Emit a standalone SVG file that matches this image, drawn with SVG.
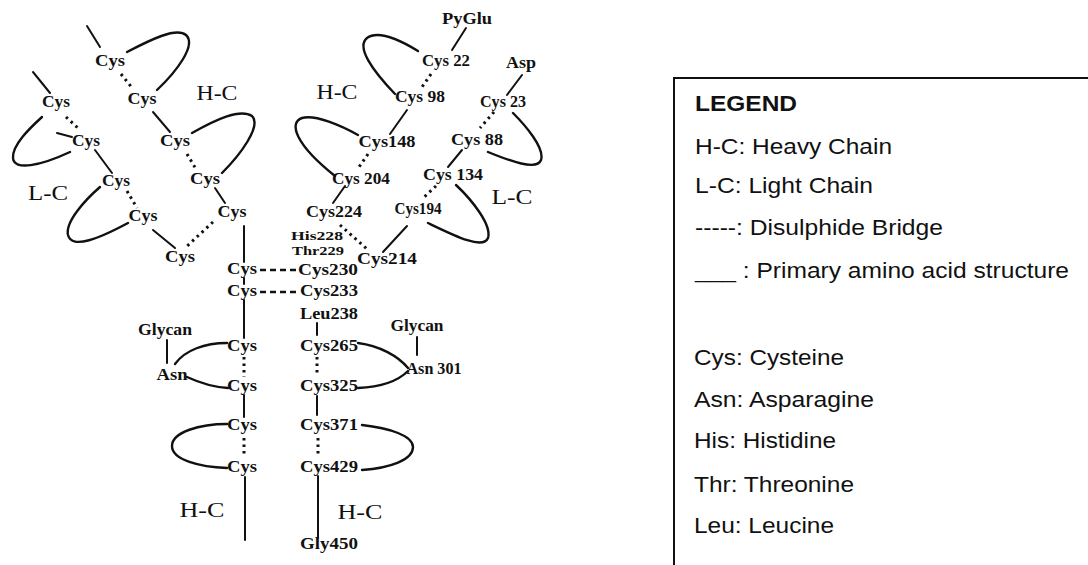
<svg xmlns="http://www.w3.org/2000/svg" width="1088" height="565" viewBox="0 0 1088 565">
  <style>
    .res { font-family: "Liberation Serif", "Times New Roman", serif; font-size: 17px; font-weight: bold; fill: #111; text-anchor: middle; }
    .small { font-size: 13px; }
    .chain { font-family: "Liberation Serif", "Times New Roman", serif; font-size: 21.5px; fill: #111; text-anchor: middle; }
    .leg { font-family: "Liberation Sans", Arial, sans-serif; font-size: 22.5px; fill: #111; }
    .legh { font-weight: bold; }
    .solid { fill: none; stroke: #111; stroke-width: 2; stroke-linecap: round; }
    .loop { fill: none; stroke: #111; stroke-width: 2.4; stroke-linecap: round; }
    .dot { fill: none; stroke: #111; stroke-width: 3; stroke-dasharray: 2.5 4; }
    .dash { fill: none; stroke: #111; stroke-width: 2.6; stroke-dasharray: 6 4; }
  </style>
  <rect width="1088" height="565" fill="#fff"/>

  <!-- peptide backbone, loops and disulphide bridges -->
  <g id="connectors">
    <!-- left heavy chain -->
    <line class="solid" x1="87" y1="26" x2="100" y2="47"/>
    <path class="loop" d="M127,52 C150,40 176,27 186,35 C197,45 176,72 157,90"/>
    <line class="dot" x1="121" y1="74" x2="133" y2="89"/>
    <line class="solid" x1="153" y1="112" x2="170" y2="132"/>
    <path class="loop" d="M192,133 C215,120 240,108 252,116 C262,126 240,155 222,173"/>
    <line class="dot" x1="187" y1="154" x2="196" y2="169"/>
    <line class="solid" x1="215" y1="188" x2="225" y2="203"/>
    <line class="dot" x1="213" y1="222" x2="185" y2="248"/>
    <line class="solid" x1="244" y1="226" x2="244" y2="262"/>
    <line class="solid" x1="244" y1="278" x2="244" y2="284"/>
    <line class="solid" x1="244" y1="300" x2="244" y2="338"/>
    <line class="dot" x1="244" y1="357" x2="244" y2="377"/>
    <line class="solid" x1="244" y1="395" x2="244" y2="417"/>
    <path class="loop" d="M227,424 C200,424 172,432 172,446 C172,460 200,467 227,468"/>
    <line class="dot" x1="244" y1="438" x2="244" y2="456"/>
    <line class="solid" x1="245" y1="477" x2="245" y2="540"/>
    <!-- left glycan -->
    <line class="solid" x1="167" y1="340" x2="167" y2="363"/>
    <path class="loop" d="M175,364 C185,350 205,343 227,343"/>
    <path class="loop" d="M187,377 C200,383 212,387 228,388"/>

    <!-- left light chain -->
    <line class="solid" x1="33" y1="72" x2="50" y2="93"/>
    <path class="loop" d="M42,117 C30,128 12,145 13,158 C14,171 40,166 70,152"/>
    <line class="solid" x1="57" y1="133" x2="72" y2="137"/>
    <line class="dot" x1="66" y1="117" x2="79" y2="129"/>
    <line class="solid" x1="95" y1="150" x2="112" y2="173"/>
    <path class="loop" d="M100,187 C85,200 65,222 68,235 C72,250 100,238 128,223"/>
    <line class="dot" x1="127" y1="191" x2="137" y2="208"/>
    <line class="solid" x1="153" y1="230" x2="175" y2="248"/>

    <!-- hinge bridges -->
    <line class="dash" x1="260" y1="270" x2="298" y2="270"/>
    <line class="dash" x1="260" y1="292" x2="298" y2="292"/>

    <!-- right heavy chain -->
    <line class="solid" x1="466" y1="28" x2="452" y2="50"/>
    <path class="loop" d="M418,51 C400,40 378,30 367,38 C356,47 372,70 395,94"/>
    <line class="dot" x1="431" y1="74" x2="420" y2="90"/>
    <line class="solid" x1="407" y1="110" x2="390" y2="134"/>
    <path class="loop" d="M358,135 C342,126 315,114 302,118 C288,123 296,145 335,176"/>
    <line class="dot" x1="368" y1="154" x2="357" y2="170"/>
    <line class="solid" x1="345" y1="186" x2="333" y2="203"/>
    <line class="dot" x1="340" y1="225" x2="367" y2="249"/>
    <line class="solid" x1="317" y1="323" x2="317" y2="335"/>
    <line class="dot" x1="317" y1="357" x2="317" y2="376"/>
    <line class="solid" x1="317" y1="396" x2="317" y2="415"/>
    <path class="loop" d="M362,425 C390,428 413,436 413,447 C413,460 390,468 362,470"/>
    <line class="dot" x1="318" y1="438" x2="318" y2="456"/>
    <line class="solid" x1="318" y1="476" x2="318" y2="538"/>
    <!-- right glycan -->
    <line class="solid" x1="417" y1="337" x2="417" y2="355"/>
    <path class="loop" d="M358,343 C380,346 398,356 408,368"/>
    <path class="loop" d="M358,388 C380,387 398,381 408,371"/>

    <!-- right light chain -->
    <line class="solid" x1="522" y1="75" x2="507" y2="95"/>
    <path class="loop" d="M513,113 C525,125 545,148 541,160 C537,171 510,161 488,152"/>
    <line class="dot" x1="494" y1="112" x2="480" y2="128"/>
    <line class="solid" x1="462" y1="150" x2="448" y2="167"/>
    <path class="loop" d="M456,185 C472,200 492,225 488,238 C483,250 455,236 428,223"/>
    <line class="dot" x1="436" y1="186" x2="422" y2="199"/>
    <line class="solid" x1="383" y1="252" x2="407" y2="226"/>
  </g>

  <!-- residues: left heavy chain -->
  <g id="lh-cys1"><text class="res" x="110" y="66" textLength="30" lengthAdjust="spacingAndGlyphs">Cys</text></g>
  <g id="lh-cys2"><text class="res" x="142" y="104" textLength="29" lengthAdjust="spacingAndGlyphs">Cys</text></g>
  <g id="lh-cys3"><text class="res" x="175" y="146" textLength="30" lengthAdjust="spacingAndGlyphs">Cys</text></g>
  <g id="lh-cys4"><text class="res" x="205" y="184" textLength="30" lengthAdjust="spacingAndGlyphs">Cys</text></g>
  <g id="lh-cys5"><text class="res" x="232" y="217" textLength="29" lengthAdjust="spacingAndGlyphs">Cys</text></g>
  <g id="lh-cys6"><text class="res" x="242" y="274" textLength="30" lengthAdjust="spacingAndGlyphs">Cys</text></g>
  <g id="lh-cys7"><text class="res" x="242" y="296" textLength="30" lengthAdjust="spacingAndGlyphs">Cys</text></g>
  <g id="lh-cys8"><text class="res" x="242" y="351" textLength="30" lengthAdjust="spacingAndGlyphs">Cys</text></g>
  <g id="lh-cys9"><text class="res" x="242" y="391" textLength="30" lengthAdjust="spacingAndGlyphs">Cys</text></g>
  <g id="lh-cys10"><text class="res" x="242" y="430" textLength="30" lengthAdjust="spacingAndGlyphs">Cys</text></g>
  <g id="lh-cys11"><text class="res" x="242" y="472" textLength="30" lengthAdjust="spacingAndGlyphs">Cys</text></g>
  <g id="lh-glycan"><text class="res" x="165" y="335" textLength="54" lengthAdjust="spacingAndGlyphs">Glycan</text></g>
  <g id="lh-asn"><text class="res" x="172" y="380" textLength="31" lengthAdjust="spacingAndGlyphs">Asn</text></g>

  <!-- residues: left light chain -->
  <g id="ll-cys1"><text class="res" x="56" y="107" textLength="28" lengthAdjust="spacingAndGlyphs">Cys</text></g>
  <g id="ll-cys2"><text class="res" x="86" y="146" textLength="28" lengthAdjust="spacingAndGlyphs">Cys</text></g>
  <g id="ll-cys3"><text class="res" x="116" y="186" textLength="28" lengthAdjust="spacingAndGlyphs">Cys</text></g>
  <g id="ll-cys4"><text class="res" x="143" y="221" textLength="29" lengthAdjust="spacingAndGlyphs">Cys</text></g>
  <g id="ll-cys5"><text class="res" x="180" y="262" textLength="30" lengthAdjust="spacingAndGlyphs">Cys</text></g>

  <!-- residues: right heavy chain -->
  <g id="rh-pyglu"><text class="res" x="467" y="24" textLength="50" lengthAdjust="spacingAndGlyphs">PyGlu</text></g>
  <g id="rh-cys22"><text class="res" x="446" y="66" textLength="48" lengthAdjust="spacingAndGlyphs">Cys 22</text></g>
  <g id="rh-cys98"><text class="res" x="420" y="102" textLength="50" lengthAdjust="spacingAndGlyphs">Cys 98</text></g>
  <g id="rh-cys148"><text class="res" x="387" y="147" textLength="57" lengthAdjust="spacingAndGlyphs">Cys148</text></g>
  <g id="rh-cys204"><text class="res" x="361" y="184" textLength="58" lengthAdjust="spacingAndGlyphs">Cys 204</text></g>
  <g id="rh-cys224"><text class="res" x="334" y="217" textLength="56" lengthAdjust="spacingAndGlyphs">Cys224</text></g>
  <g id="rh-his228"><text class="res small" x="317" y="240" textLength="52" lengthAdjust="spacingAndGlyphs">His228</text></g>
  <g id="rh-thr229"><text class="res small" x="318" y="255" textLength="52" lengthAdjust="spacingAndGlyphs">Thr229</text></g>
  <g id="rh-cys230"><text class="res" x="328" y="275" textLength="60" lengthAdjust="spacingAndGlyphs">Cys230</text></g>
  <g id="rh-cys233"><text class="res" x="329" y="296" textLength="58" lengthAdjust="spacingAndGlyphs">Cys233</text></g>
  <g id="rh-leu238"><text class="res" x="329" y="319" textLength="58" lengthAdjust="spacingAndGlyphs">Leu238</text></g>
  <g id="rh-cys265"><text class="res" x="329" y="351" textLength="58" lengthAdjust="spacingAndGlyphs">Cys265</text></g>
  <g id="rh-cys325"><text class="res" x="329" y="391" textLength="58" lengthAdjust="spacingAndGlyphs">Cys325</text></g>
  <g id="rh-cys371"><text class="res" x="329" y="430" textLength="58" lengthAdjust="spacingAndGlyphs">Cys371</text></g>
  <g id="rh-cys429"><text class="res" x="329" y="472" textLength="58" lengthAdjust="spacingAndGlyphs">Cys429</text></g>
  <g id="rh-gly450"><text class="res" x="329" y="549" textLength="58" lengthAdjust="spacingAndGlyphs">Gly450</text></g>
  <g id="rh-glycan"><text class="res" x="417" y="331" textLength="53" lengthAdjust="spacingAndGlyphs">Glycan</text></g>
  <g id="rh-asn301"><text class="res" x="434" y="374" textLength="55" lengthAdjust="spacingAndGlyphs">Asn 301</text></g>

  <!-- residues: right light chain -->
  <g id="rl-asp"><text class="res" x="521" y="68" textLength="30" lengthAdjust="spacingAndGlyphs">Asp</text></g>
  <g id="rl-cys23"><text class="res" x="503" y="107" textLength="46" lengthAdjust="spacingAndGlyphs">Cys 23</text></g>
  <g id="rl-cys88"><text class="res" x="477" y="145" textLength="52" lengthAdjust="spacingAndGlyphs">Cys 88</text></g>
  <g id="rl-cys134"><text class="res" x="453" y="180" textLength="60" lengthAdjust="spacingAndGlyphs">Cys 134</text></g>
  <g id="rl-cys194"><text class="res" x="418" y="214" textLength="47" lengthAdjust="spacingAndGlyphs">Cys194</text></g>
  <g id="rl-cys214"><text class="res" x="387" y="264" textLength="60" lengthAdjust="spacingAndGlyphs">Cys214</text></g>

  <!-- chain labels -->
  <g id="label-hc-tl"><text class="chain" x="217" y="100" textLength="41" lengthAdjust="spacingAndGlyphs">H-C</text></g>
  <g id="label-hc-tr"><text class="chain" x="337" y="99" textLength="41" lengthAdjust="spacingAndGlyphs">H-C</text></g>
  <g id="label-lc-l"><text class="chain" x="48" y="200" textLength="40" lengthAdjust="spacingAndGlyphs">L-C</text></g>
  <g id="label-lc-r"><text class="chain" x="512" y="204" textLength="41" lengthAdjust="spacingAndGlyphs">L-C</text></g>
  <g id="label-hc-bl"><text class="chain" x="202" y="517" textLength="45" lengthAdjust="spacingAndGlyphs">H-C</text></g>
  <g id="label-hc-br"><text class="chain" x="360" y="519" textLength="45" lengthAdjust="spacingAndGlyphs">H-C</text></g>

  <!-- legend -->
  <g id="legend">
    <rect x="674" y="78" width="430" height="500" fill="none" stroke="#111" stroke-width="2"/>
    <text class="leg legh" x="695" y="111" textLength="102" lengthAdjust="spacingAndGlyphs">LEGEND</text>
    <text class="leg" x="695" y="154" textLength="197" lengthAdjust="spacingAndGlyphs">H-C: Heavy Chain</text>
    <text class="leg" x="695" y="193" textLength="178" lengthAdjust="spacingAndGlyphs">L-C: Light Chain</text>
    <text class="leg" x="695" y="235" textLength="248" lengthAdjust="spacingAndGlyphs">-----: Disulphide Bridge</text>
    <text class="leg" x="695" y="278" textLength="374" lengthAdjust="spacingAndGlyphs">___ : Primary amino acid structure</text>
    <text class="leg" x="694" y="365" textLength="150" lengthAdjust="spacingAndGlyphs">Cys: Cysteine</text>
    <text class="leg" x="694" y="407" textLength="180" lengthAdjust="spacingAndGlyphs">Asn: Asparagine</text>
    <text class="leg" x="694" y="448" textLength="142" lengthAdjust="spacingAndGlyphs">His: Histidine</text>
    <text class="leg" x="694" y="492" textLength="160" lengthAdjust="spacingAndGlyphs">Thr: Threonine</text>
    <text class="leg" x="694" y="533" textLength="140" lengthAdjust="spacingAndGlyphs">Leu: Leucine</text>
  </g>
</svg>
